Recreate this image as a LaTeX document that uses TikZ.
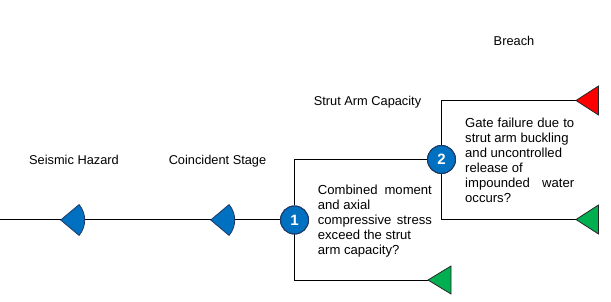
\documentclass[tikz,border=0pt]{standalone}
\usepackage{fontspec}
\setmainfont{Liberation Sans}
\definecolor{cblue}{HTML}{0070C0}
\definecolor{cborder}{HTML}{1F3864}
\definecolor{cgreen}{HTML}{00B050}
\definecolor{cred}{HTML}{FF0000}
\begin{document}
\begin{tikzpicture}[x=1pt,y=-1pt,
  lbl/.style={font=\fontsize{12.8}{15}\selectfont, inner sep=0pt, text=black},
  blk/.style={lbl, font=\fontsize{13.1}{15}\selectfont, align=left, anchor=north west},
  conn/.style={line width=1pt, draw=black},
  chance/.style={fill=cblue, draw=cborder, line width=0.8pt},
  numc/.style={circle, fill=cblue, draw=cborder, line width=1pt, minimum size=28pt, inner sep=0pt, text=white, font=\fontsize{15}{15}\selectfont\bfseries},
  endtri/.style={draw=black!85, line width=0.8pt},
]
\useasboundingbox (0,0) rectangle (611,302);
% nodes and coordinates
\coordinate (start) at (0,220);
\coordinate (c1) at (60.7,220);
\coordinate (c2) at (210.7,220);
\coordinate (t1) at (428,280);
\coordinate (t2) at (576,100.5);
\coordinate (t3) at (576,219.5);
\node[numc] (n1) at (294.5,220) {};
\node[numc] (n2) at (441.5,159.5) {};
% connectors
\draw[conn] (start) -- (n1.west);
\draw[conn] (n1.north) |- (n2.west);
\draw[conn] (n1.south) |- (t1);
\draw[conn] (n2.north) |- (t2);
\draw[conn] (n2.south) |- (t3);
% decision circles on top
\node[numc] at (n1) {1};
\node[numc] at (n2) {2};
% chance sectors
\filldraw[chance] (c1) -- ++(40:24) arc[start angle=40, end angle=-40, radius=24] -- cycle;
\filldraw[chance] (c2) -- ++(40:24) arc[start angle=40, end angle=-40, radius=24] -- cycle;
% end triangles
\filldraw[endtri, fill=cgreen] (t1) -- ++(23,-14) -- ++(0,28) -- cycle;
\filldraw[endtri, fill=cred] (t2) -- ++(22.5,-14.5) -- ++(0,29) -- cycle;
\filldraw[endtri, fill=cgreen] (t3) -- ++(22.5,-14.5) -- ++(0,29) -- cycle;
% labels
\node[lbl, anchor=base] (seis) at (74,165) {Seismic Hazard};
\node[lbl, anchor=base] (coin) at (217.5,165) {Coincident Stage};
\node[lbl, anchor=base] (sac) at (367.5,105.7) {Strut Arm Capacity};
\node[lbl, anchor=base] (br) at (514,45.7) {Breach};
\node[blk] (q1) at (317.7,185) {\makebox[114pt][s]{Combined moment}\\and axial\\\makebox[114pt][s]{compressive stress}\\exceed the strut\\arm capacity?};
\node[blk] (q2) at (465,118.3) {\makebox[109pt][s]{Gate failure due to}\\strut arm buckling\\and uncontrolled\\release of\\\makebox[109pt][s]{impounded water}\\occurs?};
\end{tikzpicture}
\end{document}
